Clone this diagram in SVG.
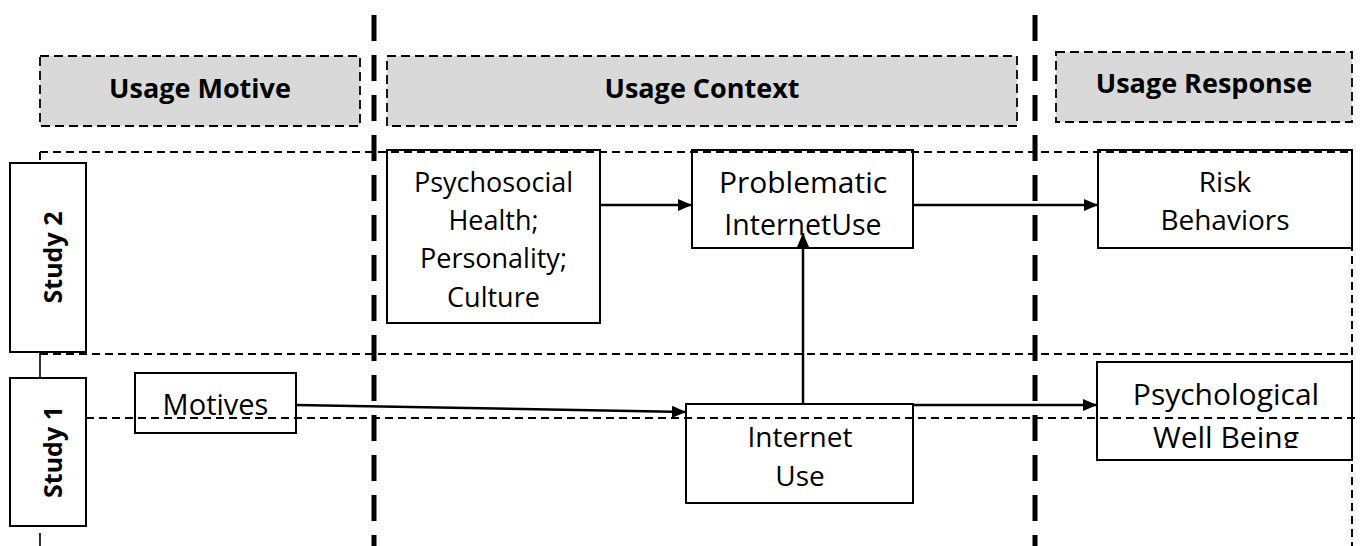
<svg xmlns="http://www.w3.org/2000/svg" width="1360" height="546" viewBox="0 0 1360 546">
  <style>
    .hdr { fill: #d9d9d9; stroke: #000; stroke-width: 1.8; stroke-dasharray: 9 5; }
    .hdr-t { font-family: "Open Sans", "Liberation Sans", sans-serif; font-weight: bold; font-size: 27px; text-anchor: middle; fill: #000; }
    .box { fill: #fff; stroke: #000; stroke-width: 2; }
    .lbl { font-family: "Open Sans", "Liberation Sans", sans-serif; font-size: 27px; text-anchor: middle; fill: #000; }
    .study-t { font-family: "Open Sans", "Liberation Sans", sans-serif; font-weight: bold; font-size: 25px; text-anchor: middle; fill: #000; }
    .lane { fill: none; stroke: #000; stroke-width: 2; stroke-dasharray: 8 5; }
    .divider { fill: none; stroke: #000; stroke-width: 5; stroke-dasharray: 26 14; }
    .conn { fill: none; stroke: #000; stroke-width: 2.5; }
  </style>
  <defs>
    <marker id="arrow" viewBox="0 0 14 12" refX="14" refY="6" markerWidth="14" markerHeight="12" markerUnits="userSpaceOnUse" orient="auto">
      <path d="M0,0 L14,6 L0,12 Z" fill="#000"/>
    </marker>
    <clipPath id="wellClip">
      <rect x="1097" y="362" width="255" height="86"/>
    </clipPath>
  </defs>

  <rect width="1360" height="546" fill="#fff"/>

  <!-- swimlane outlines -->
  <g id="lanes">
    <line class="lane" x1="40" y1="354" x2="1352" y2="354"/>
    <line class="lane" x1="40" y1="152" x2="40" y2="164"/>
    <line x1="40" y1="352" x2="40" y2="378" stroke="#000" stroke-width="1.6"/>
    <line x1="40" y1="533" x2="40" y2="546" stroke="#000" stroke-width="1.6"/>
  </g>

  <!-- phase dividers -->
  <g id="dividers">
    <line class="divider" x1="374" y1="15" x2="374" y2="546"/>
    <line class="divider" x1="1035" y1="15" x2="1035" y2="546"/>
  </g>

  <!-- column headers -->
  <g id="hdr-motive">
    <rect class="hdr" x="40" y="56" width="320" height="70"/>
    <text class="hdr-t" x="200" y="98">Usage Motive</text>
  </g>
  <g id="hdr-context">
    <rect class="hdr" x="387" y="56" width="630" height="70"/>
    <text class="hdr-t" x="702" y="98">Usage Context</text>
  </g>
  <g id="hdr-response">
    <rect class="hdr" x="1056" y="52" width="296" height="70"/>
    <text class="hdr-t" x="1204" y="93">Usage Response</text>
  </g>

  <!-- study labels -->
  <g id="study2">
    <rect class="box" x="10" y="163" width="76" height="189"/>
    <text class="study-t" transform="translate(62,257.5) rotate(-90)">Study 2</text>
  </g>
  <g id="study1">
    <rect class="box" x="10" y="378" width="76" height="148"/>
    <text class="study-t" transform="translate(62,452) rotate(-90)">Study 1</text>
  </g>

  <!-- nodes -->
  <g id="psychosocial">
    <rect class="box" x="387" y="150" width="213" height="173"/>
    <text class="lbl" x="493.5" y="192">Psychosocial</text>
    <text class="lbl" x="493.5" y="230">Health;</text>
    <text class="lbl" x="493.5" y="268">Personality;</text>
    <text class="lbl" x="493.5" y="307">Culture</text>
  </g>
  <g id="problematic">
    <rect class="box" x="692" y="150" width="221" height="98"/>
    <text class="lbl" x="803" y="193" style="font-size:30px">Problematic</text>
    <text class="lbl" x="803" y="235" style="font-size:28.5px">InternetUse</text>
  </g>
  <g id="risk">
    <rect class="box" x="1098" y="150" width="254" height="98"/>
    <text class="lbl" x="1225" y="192" style="font-size:28px">Risk</text>
    <text class="lbl" x="1225" y="230" style="font-size:28px">Behaviors</text>
  </g>
  <g id="motives">
    <rect class="box" x="135" y="373" width="161" height="60"/>
    <text class="lbl" x="215.5" y="415" style="font-size:29px">Motives</text>
  </g>
  <g id="internet-use">
    <rect class="box" x="686" y="404" width="227" height="99"/>
    <text class="lbl" x="800" y="447" style="font-size:28px">Internet</text>
    <text class="lbl" x="800" y="486" style="font-size:28px">Use</text>
  </g>
  <g id="wellbeing">
    <rect class="box" x="1097" y="362" width="255" height="98"/>
    <text class="lbl" x="1226" y="405" style="font-size:30px">Psychological</text>
    <text class="lbl" x="1226" y="448" clip-path="url(#wellClip)" style="font-size:30px">Well Being</text>
  </g>

  <!-- lane lines that run over the node boxes -->
  <g id="lanes-over">
    <line class="lane" x1="40" y1="152" x2="1352" y2="152"/>
    <line class="lane" x1="86" y1="418" x2="1360" y2="418"/>
    <line class="lane" x1="1352" y1="152" x2="1352" y2="546"/>
  </g>

  <!-- connectors -->
  <g id="connectors">
    <line class="conn" x1="600" y1="205" x2="692" y2="205" marker-end="url(#arrow)"/>
    <line class="conn" x1="913" y1="205" x2="1098" y2="205" marker-end="url(#arrow)"/>
    <line class="conn" x1="803" y1="404" x2="803" y2="233" marker-end="url(#arrow)"/>
    <line class="conn" x1="296" y1="405" x2="686" y2="412" marker-end="url(#arrow)"/>
    <line class="conn" x1="913" y1="405" x2="1097" y2="405" marker-end="url(#arrow)"/>
  </g>
</svg>
